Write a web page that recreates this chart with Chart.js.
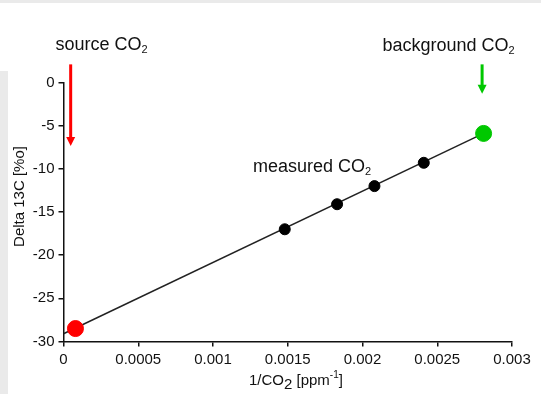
<!DOCTYPE html>
<html>
<head>
<meta charset="utf-8">
<script src="https://cdn.jsdelivr.net/npm/chart.js@4/dist/chart.umd.min.js"></script>
<style>
  html, body { margin: 0; padding: 0; background: #eaeaea; }
  #wrap { width: 541px; height: 394px; position: relative; }
</style>
</head>
<body>
<div id="wrap"><canvas id="myChart"></canvas></div>
<script>
// data
var measuredX = [0.00148, 0.00183, 0.00208, 0.00241];
var measuredY = [-17.0, -14.1, -12.0, -9.3];
var sourceX = [0.00008];
var sourceY = [-28.5];
var backgroundX = [0.00281];
var backgroundY = [-5.9];
var fitX = [0, 0.00281];       // mixing line
var fitY = [-29.1, -5.9];
var xTickLabels = ['0', '0.0005', '0.001', '0.0015', '0.002', '0.0025', '0.003'];
var yTickLabels = ['-30', '-25', '-20', '-15', '-10', '-5', '0'];

function pts(xs, ys) {
    return xs.map(function (x, i) { return { x: x, y: ys[i] }; });
}

var FONT = 'Arial, "Liberation Sans", sans-serif';

// text with sub/superscript pieces: [text, size, yOffset]
function drawRich(ctx, x, y, parts, color) {
    ctx.save();
    ctx.fillStyle = color || '#111';
    ctx.textBaseline = 'alphabetic';
    ctx.textAlign = 'left';
    parts.forEach(function (p) {
        ctx.font = p[1] + 'px ' + FONT;
        ctx.fillText(p[0], x, y + p[2]);
        x += ctx.measureText(p[0]).width;
    });
    ctx.restore();
}

function arrow(ctx, x, y1, y2, color) {
    ctx.save();
    ctx.strokeStyle = color;
    ctx.fillStyle = color;
    ctx.lineWidth = 3;
    ctx.beginPath();
    ctx.moveTo(x, y1);
    ctx.lineTo(x, y2 - 8);
    ctx.stroke();
    ctx.beginPath();
    ctx.moveTo(x - 4.5, y2 - 9);
    ctx.lineTo(x + 4.5, y2 - 9);
    ctx.lineTo(x, y2);
    ctx.closePath();
    ctx.fill();
    ctx.restore();
}

var panelPlugin = {
    id: 'panel',
    beforeDraw: function (chart) {
        var c = chart.ctx;
        c.save();
        c.fillStyle = '#eaeaea';
        c.fillRect(0, 0, chart.width, chart.height);
        c.fillStyle = '#ffffff';
        c.fillRect(0, 3, chart.width, 68);
        c.fillRect(8, 70, chart.width - 8, chart.height - 70);
        c.restore();
    }
};

var notesPlugin = {
    id: 'notes',
    afterDatasetsDraw: function (chart) {
        var c = chart.ctx;
        var xs = chart.scales.x, ys = chart.scales.y;
        // arrows pointing at end members
        arrow(c, xs.getPixelForValue(0.000048), ys.getPixelForValue(2.1), ys.getPixelForValue(-7.35), '#ff0000');
        arrow(c, xs.getPixelForValue(0.0028), ys.getPixelForValue(2.1), ys.getPixelForValue(-1.3), '#00c800');

        drawRich(c, 55.5, 50, [['source CO', 18, 0], ['2', 11, 3]]);
        drawRich(c, 382.5, 51, [['background CO', 18, 0], ['2', 11, 3]]);
        drawRich(c, 253, 172, [['measured CO', 18, 0], ['2', 11, 3]]);

        // axis titles
        drawRich(c, 249, 385, [['1/CO', 15, 0], ['2', 15, 4], [' [ppm', 15, 0], ['-1', 10, -7], [']', 15, 0]]);
        c.save();
        c.translate(24, 196.5);
        c.rotate(-Math.PI / 2);
        c.font = '15px ' + FONT;
        c.fillStyle = '#111';
        c.textAlign = 'center';
        c.textBaseline = 'alphabetic';
        c.fillText('Delta 13C [%o]', 0, 0);
        c.restore();
    }
};

var ctx = document.getElementById('myChart').getContext('2d');

var myChart = new Chart(ctx, {
    type: 'scatter',
    data: {
        datasets: [
            {
                label: 'background CO2',
                data: pts(backgroundX, backgroundY),
                backgroundColor: '#00c800',
                borderColor: '#00c800',
                pointRadius: 8,
                order: 1
            },
            {
                label: 'source CO2',
                data: pts(sourceX, sourceY),
                backgroundColor: '#ff0000',
                borderColor: '#ff0000',
                pointRadius: 8,
                order: 1
            },
            {
                label: 'measured CO2',
                data: pts(measuredX, measuredY),
                backgroundColor: '#000000',
                borderColor: '#000000',
                pointRadius: 5.5,
                order: 1
            },
            {
                label: 'fit',
                data: pts(fitX, fitY),
                showLine: true,
                borderColor: '#222222',
                borderWidth: 1.5,
                pointRadius: 0,
                order: 2
            }
        ]
    },
    options: {
        responsive: true,
        maintainAspectRatio: false,
        animation: false,
        layout: { padding: { left: 0, right: 29, top: 82.5, bottom: 0 } },
        plugins: {
            legend: { display: false },
            tooltip: { enabled: false }
        },
        scales: {
            x: {
                type: 'linear',
                min: 0,
                max: 0.003,
                afterFit: function (s) { s.height = 52.5; },
                border: { display: true, color: '#111', width: 1.5 },
                grid: { drawOnChartArea: false, drawTicks: true, tickLength: 5, color: '#111', lineWidth: 1.5 },
                ticks: {
                    stepSize: 0.0005,
                    padding: 4,
                    maxRotation: 0,
                    autoSkip: false,
                    color: '#111',
                    font: { size: 15, family: FONT },
                    callback: function (v, i) { return xTickLabels[i]; }
                }
            },
            y: {
                type: 'linear',
                min: -30,
                max: 0,
                afterFit: function (s) { s.width = 63.5; },
                border: { display: true, color: '#111', width: 1.5 },
                grid: { drawOnChartArea: false, drawTicks: true, tickLength: 5, color: '#111', lineWidth: 1.5 },
                ticks: {
                    stepSize: 5,
                    padding: 4,
                    color: '#111',
                    font: { size: 15, family: FONT },
                    callback: function (v, i) { return yTickLabels[i]; }
                }
            }
        }
    },
    plugins: [panelPlugin, notesPlugin]
});
</script>
</body>
</html>
